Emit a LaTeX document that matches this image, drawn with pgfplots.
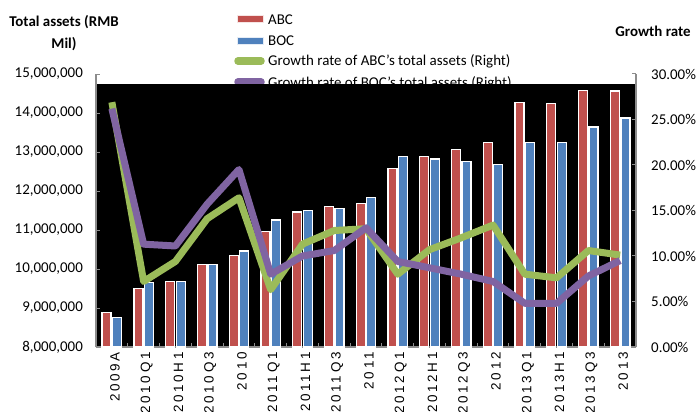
\documentclass[border=0pt]{standalone}
\usepackage{fontspec}
\setmainfont{Carlito}
\newfontfamily\xlabfont[LetterSpace=20]{Liberation Sans}
\usepackage{pgfplots}
\pgfplotsset{compat=1.18}
\definecolor{abc}{HTML}{C0504D}
\definecolor{boc}{HTML}{4F81BD}
\definecolor{gabc}{HTML}{9BBB59}
\definecolor{gboc}{HTML}{8064A2}
\definecolor{axgray}{HTML}{8C8C8C}
\begin{document}
\begin{tikzpicture}
\path[use as bounding box] (-96bp,-65bp) rectangle (600bp,347bp);
% titles
\node[font=\bfseries\fontsize{15}{22}\selectfont, align=center] at (-32bp,314bp) {Total assets (RMB\\Mil)};
\node[font=\bfseries\fontsize{15}{18}\selectfont] at (557bp,316bp) {Growth rate};
% legend
\fill[abc, draw=white!85!abc, line width=0.8bp] (141bp,325bp) rectangle (167bp,332bp);
\fill[boc, draw=white!85!boc, line width=0.8bp] (141bp,303bp) rectangle (167bp,310bp);
\draw[gabc, line width=7.5bp, line cap=round] (142bp,286bp) -- (165bp,286bp);
\draw[gboc, line width=7.5bp, line cap=round] (142bp,265bp) -- (165bp,265bp);
\begin{scope}[every node/.style={anchor=west, inner sep=0pt, font=\fontsize{15}{18}\selectfont}]
\node at (172bp,327bp) {ABC};
\node at (172bp,306bp) {BOC};
\node at (172bp,286bp) {Growth rate of ABC's total assets (Right)};
\node at (172bp,264bp) {Growth rate of BOC's total assets (Right)};
\end{scope}
% plot area background
\fill[black] (0bp,0bp) rectangle (540bp,263bp);
\begin{axis}[
  at={(0bp,0bp)}, anchor=south west,
  scale only axis, width=540bp, height=273bp,
  xmin=-0.5, xmax=16.5,
  ymin=8000000, ymax=15000000,
  scaled y ticks=false,
  ybar=1.5bp, bar width=9bp,
  axis x line*=bottom, axis y line*=left,
  axis line style={draw=axgray, line width=1.5bp, -},
  tick style={draw=axgray, line width=1bp},
  major tick length=4bp, minor tick length=4bp, tick align=inside,
  xtick={0,...,16},
  xticklabels={2009A,2010Q1,2010H1,2010Q3,2010,2011Q1,2011H1,2011Q3,2011,2012Q1,2012H1,2012Q3,2012,2013Q1,2013H1,2013Q3,2013},
  every major x tick/.append style={draw=none},
  minor xtick={-0.5,0.5,...,16.5},
  x tick label style={anchor=east, inner sep=0pt, xshift=3bp, yshift=-5bp, rotate=90, font=\xlabfont\fontsize{13.5}{15}\selectfont},
  ytick={8000000,9000000,10000000,11000000,12000000,13000000,14000000,15000000},
  yticklabels={{8,000,000},{9,000,000},{10,000,000},{11,000,000},{12,000,000},{13,000,000},{14,000,000},{15,000,000}},
  y tick label style={inner sep=0pt, xshift=-13bp, font=\fontsize{15}{18}\selectfont},
  clip=false,
]
\addplot[fill=abc, draw=white, line width=1.3bp] coordinates {
(0,8882588) (1,9500000) (2,9680000) (3,10110000) (4,10337406) (5,10960000) (6,11460000) (7,11610000) (8,11677577) (9,12580000) (10,12880000) (11,13060000) (12,13244342) (13,14270000) (14,14240000) (15,14580000) (16,14562102)};
\addplot[fill=boc, draw=white, line width=1.3bp] coordinates {
(0,8751943) (1,9660000) (2,9680000) (3,10110000) (4,10459865) (5,11260000) (6,11500000) (7,11550000) (8,11830066) (9,12890000) (10,12820000) (11,12760000) (12,12680615) (13,13240000) (14,13240000) (15,13640000) (16,13874299)};
\end{axis}
\begin{axis}[
  at={(0bp,0bp)}, anchor=south west,
  scale only axis, width=540bp, height=273bp,
  xmin=-0.5, xmax=16.5,
  ymin=0, ymax=30,
  axis x line=none, axis y line*=right,
  axis line style={draw=axgray, line width=1.5bp, -},
  tick style={draw=axgray, line width=1bp},
  major tick length=4bp, tick align=inside,
  ytick={0,5,10,15,20,25,30},
  yticklabels={0.00\%,5.00\%,10.00\%,15.00\%,20.00\%,25.00\%,30.00\%},
  y tick label style={inner sep=0pt, xshift=15bp, font=\fontsize{15}{18}\selectfont},
  clip=false,
]
\addplot[gabc, line width=7bp, line join=round, mark=none] coordinates {
(0,26.9) (1,7.2) (2,9.4) (3,14.1) (4,16.4) (5,6.3) (6,11.3) (7,12.8) (8,13.0) (9,8.0) (10,10.7) (11,12.0) (12,13.4) (13,8.0) (14,7.6) (15,10.6) (16,10.1)};
\addplot[gboc, line width=7bp, line join=round, mark=none] coordinates {
(0,26.2) (1,11.3) (2,11.1) (3,15.7) (4,19.5) (5,8.0) (6,10.0) (7,10.6) (8,13.1) (9,9.4) (10,8.7) (11,8.0) (12,7.2) (13,4.8) (14,4.8) (15,7.8) (16,9.5)};
\end{axis}
\end{tikzpicture}
\end{document}
